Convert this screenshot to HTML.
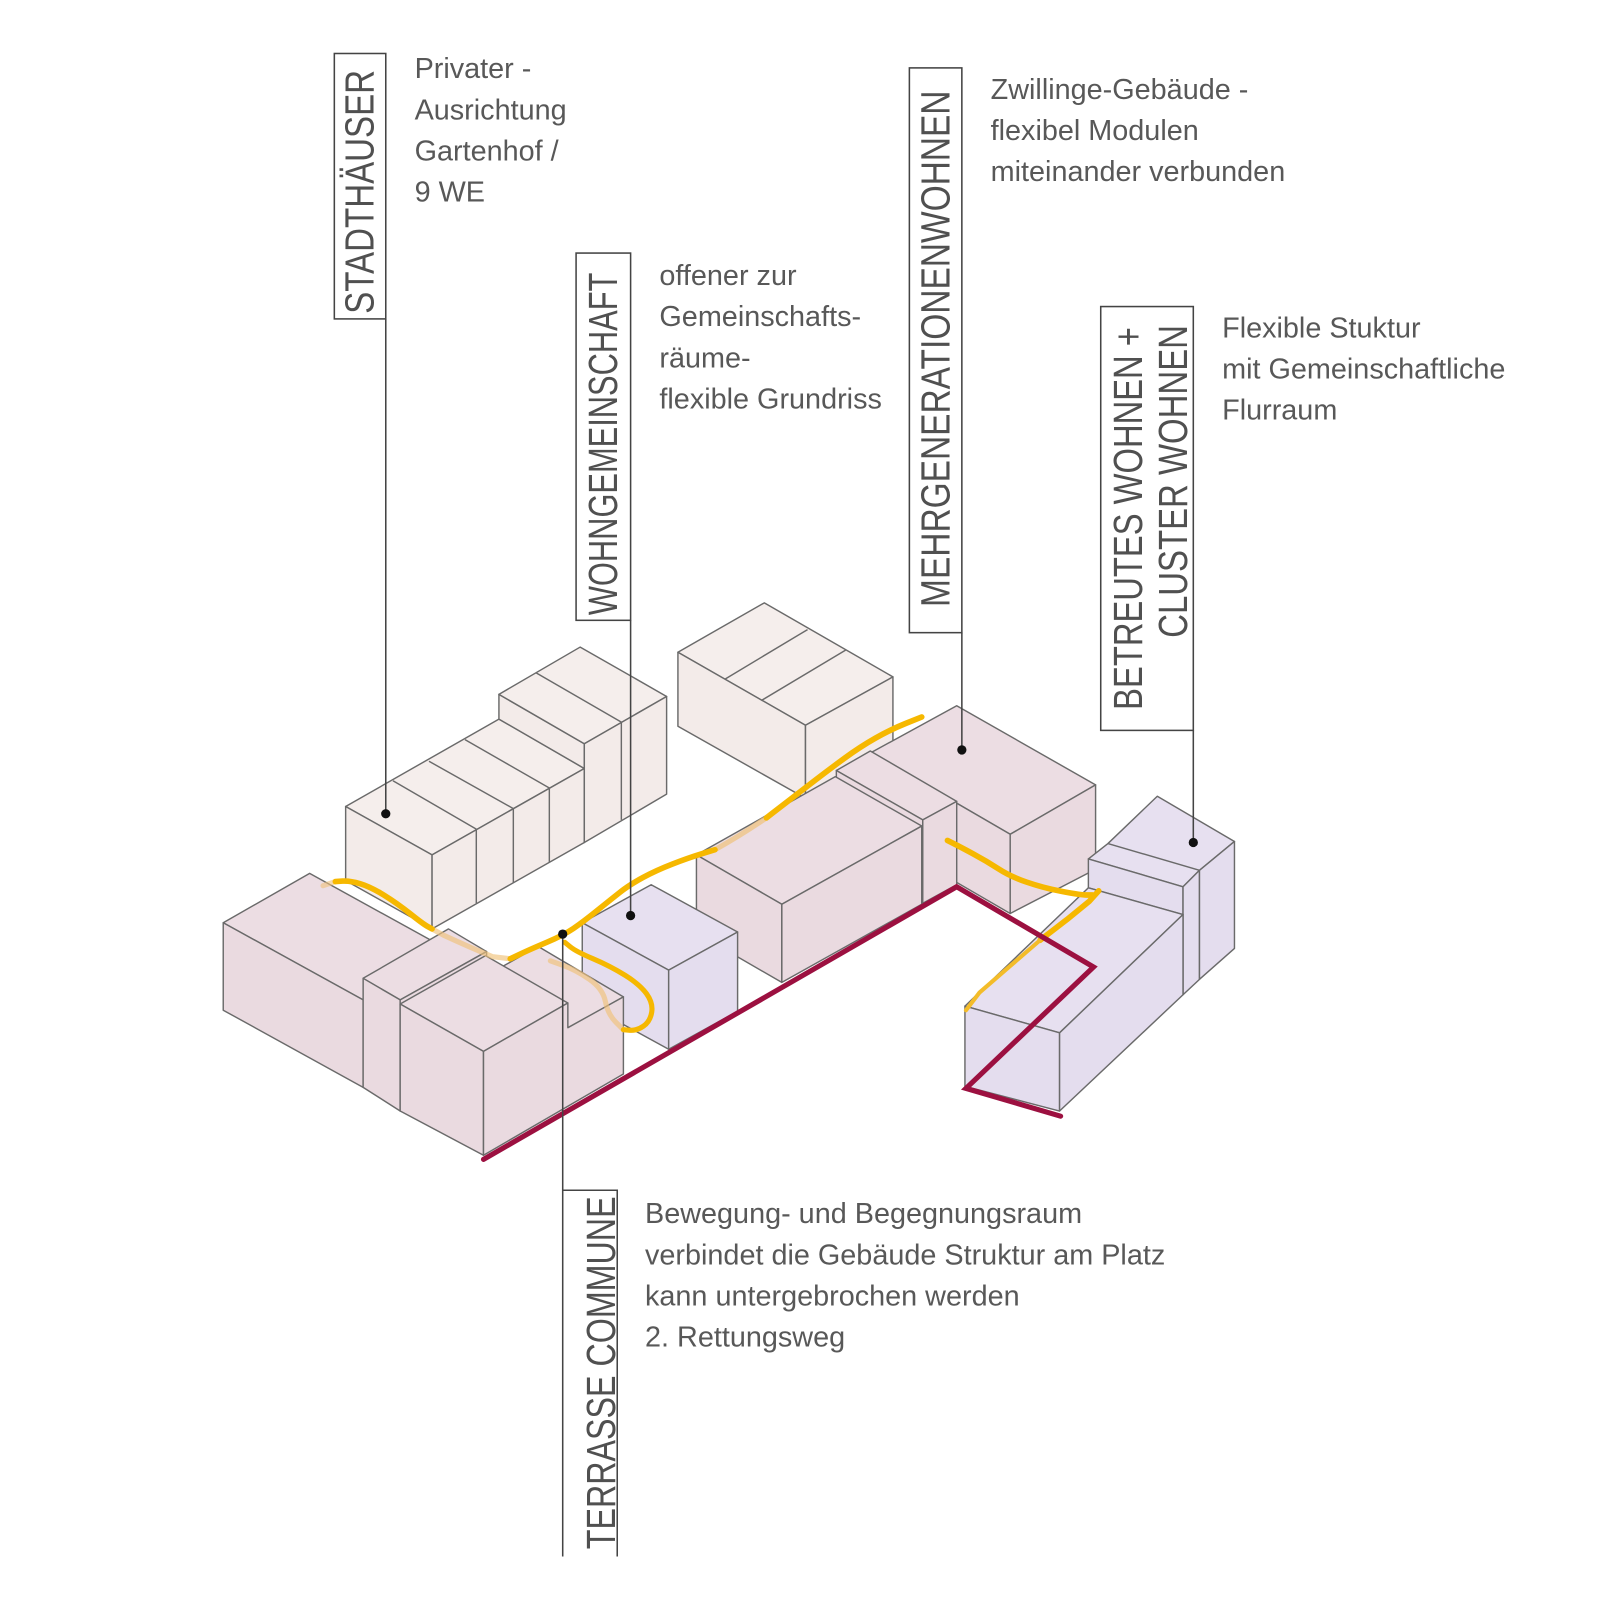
<!DOCTYPE html>
<html>
<head>
<meta charset="utf-8">
<style>
  html,body{margin:0;padding:0;background:#fff;}
  svg{display:block;}
  .lbl{font-family:"Liberation Sans",Arial,sans-serif;font-size:40px;fill:#505050;}
  .txt{font-family:"Liberation Sans",Arial,sans-serif;font-size:28px;fill:#585858;}
</style>
</head>
<body>
<svg xmlns="http://www.w3.org/2000/svg" width="1612" height="1612" viewBox="0 0 1567 1567">
<rect width="1567" height="1567" fill="#ffffff"/>

<g stroke="#6a6a6a" stroke-width="1.4" stroke-linejoin="round">
  <!-- B1 back cream block -->
  <polygon fill="#f5eeec" points="659,634 743,586 868,658 783,705"/>
  <polygon fill="#f3ebe9" points="659,634 783,705 783,776 659,706"/>
  <polygon fill="#f3ebe9" points="783,705 868,658 868,731 783,776"/>
  <line x1="705" y1="660" x2="785" y2="612"/>
  <line x1="740" y1="681" x2="822" y2="632"/>

  <!-- Stadthaeuser row lower -->
  <polygon fill="#f5eeec" points="336,784 485,699 568,747 420,831"/>
  <polygon fill="#f3ebe9" points="336,784 420,831 420,903 336,856"/>
  <polygon fill="#f3ebe9" points="420,831 568,747 568,819 420,903"/>
  <line x1="382" y1="759" x2="463" y2="806"/>
  <line x1="417" y1="740" x2="499" y2="786"/>
  <line x1="452" y1="719" x2="534" y2="766"/>
  <line x1="463" y1="806" x2="463" y2="878"/>
  <line x1="499" y1="786" x2="499" y2="858"/>
  <line x1="534" y1="766" x2="534" y2="838"/>
  <!-- Stadthaeuser higher -->
  <polygon fill="#f3ebe9" points="485,675 568,723 568,747 485,699"/>
  <polygon fill="#f5eeec" points="485,675 564,629 648,677 568,723"/>
  <polygon fill="#f3ebe9" points="568,723 648,677 648,772 568,819"/>
  <line x1="521" y1="654" x2="604" y2="702"/>
  <line x1="604" y1="702" x2="604" y2="797"/>

  <!-- M1a tall pink -->
  <polygon fill="#ecdde3" points="846,732 930,686 1065,763 982,811"/>
  <polygon fill="#eadae0" points="846,732 982,811 982,888 846,809"/>
  <polygon fill="#eadae0" points="982,811 1065,763 1065,845 982,888"/>
  <!-- M1b -->
  <polygon fill="#ecdde3" points="813,749 846,730 930,779 897,797"/>
  <polygon fill="#eadae0" points="813,749 897,797 897,878 813,830"/>
  <polygon fill="#eadae0" points="897,797 930,779 930,860 897,878"/>
  <!-- P1 -->
  <polygon fill="#ecdde3" points="677,831 812,755 896,803 760,879"/>
  <polygon fill="#eadae0" points="677,831 760,879 760,955 677,907"/>
  <polygon fill="#eadae0" points="760,879 896,803 896,879 760,955"/>

  <!-- Lavender cube (Wohngemeinschaft) -->
  <polygon fill="#e7e0f0" points="566,897 633,860 717,906 650,943"/>
  <polygon fill="#e4ddee" points="566,897 650,943 650,1020 566,974"/>
  <polygon fill="#e4ddee" points="650,943 717,906 717,983 650,1020"/>

  <!-- A1 -->
  <polygon fill="#ecdde3" points="217,897 301,849 437,924 353,972"/>
  <polygon fill="#eadae0" points="217,897 353,972 353,1057 217,982"/>
  <!-- A2 -->
  <polygon fill="#ecdde3" points="353,951 436,903 473,925 389,972"/>
  <polygon fill="#eadae0" points="353,951 389,972 389,1080 353,1057"/>
  <polygon fill="#eadae0" points="389,972 473,925 473,1033 389,1080"/>
  <!-- A4 -->
  <polygon fill="#ecdde3" points="470,950 523,920 606,969 553,999"/>
  <!-- A3 -->
  <polygon fill="#ecdde3" points="389,976 472,929 552,975 470,1022"/>
  <polygon fill="#eadae0" points="389,976 470,1022 470,1123 389,1080"/>
  <polygon fill="#eadae0" points="470,1022 552,975 552,999 606,969 606,1044 470,1123"/>

  <!-- Betreutes tall part -->
  <polygon fill="#e7e0f0" points="1058,835 1077,820 1125,774 1200,818 1166,846 1150,862"/>
  <line x1="1077" y1="820" x2="1166" y2="846"/>
  <polygon fill="#e4ddee" points="1058,835 1150,862 1150,889 1058,863"/>
  <polygon fill="#e4ddee" points="1150,862 1166,846 1166,952 1150,967"/>
  <polygon fill="#e4ddee" points="1166,846 1200,818 1200,922 1166,952"/>
  <!-- Betreutes long low part -->
  <polygon fill="#e7e0f0" points="938,978 1058,863 1150,889 1030,1004"/>
  <polygon fill="#e4ddee" points="938,978 1030,1004 1030,1080 938,1056"/>
  <polygon fill="#e4ddee" points="1030,1004 1150,889 1150,967 1030,1080"/>
</g>

<!-- Yellow paths -->
<g fill="none" stroke-linecap="round" stroke-linejoin="round">
  <!-- faded (behind) segments -->
  <path stroke="#f0c27a" stroke-opacity="0.6" stroke-width="5" d="M314,861 L326,857"/>
  <path stroke="#f0c27a" stroke-opacity="0.65" stroke-width="5" d="M420,903 L431,909 Q457,921 479,930 L496,932"/>
  <path stroke="#f0c27a" stroke-opacity="0.65" stroke-width="5" d="M606,1001 L598.5,993.5 Q591,986 588.5,973.5 Q586,961 573,952 Q560,943 547.5,938.5 L535,934"/>
  <path stroke="#f0c27a" stroke-opacity="0.7" stroke-width="5" d="M695,826 Q720,812 745,795"/>
  <!-- bold segments -->
  <path stroke="#f6b800" stroke-width="5.5" d="M326,857 L333,856.5 Q340,856 350,859 Q360,862 373,870 Q386,878 398.5,888 Q411,898 415.5,900.5 L420,903"/>
  <path stroke="#f6b800" stroke-width="5.5" d="M496,932 L505.5,927.5 Q515,923 531.5,916 Q548,909 557.5,902.5 Q567,896 580,885.5 Q593,875 602.5,867.5 Q612,860 625,853 Q638,846 653.5,840 Q669,834 682,830 L695,826"/>
  <path stroke="#f6b800" stroke-width="5.5" d="M745,795 L749.5,791.5 Q754,788 767,778 Q780,768 793,758 Q806,748 821,737 Q836,726 851,717.5 Q866,709 881,703 L896,697"/>
  <path stroke="#f6b800" stroke-width="5" d="M549,916 L554.5,920.5 Q560,925 576.5,932 Q593,939 607.5,948 Q622,957 628.5,966 Q635,975 633.5,984 Q632,993 625.5,997.5 Q619,1002 612.5,1001.5 L606,1001"/>
  <path stroke="#f6b800" stroke-width="5.5" d="M921,817 L927,820 Q933,823 946,830 Q959,837 970.5,844.5 Q982,852 998,857.5 Q1014,863 1032,866.5 Q1050,870 1056,870 L1062,870"/>
  <polyline stroke="#f6b800" stroke-width="5.5" points="1068,866 1059,876 1037,894 1011,914"/>
  <polyline stroke="#f3bc2a" stroke-width="4" points="1011,914 982,939 952,965 939,982"/>
</g>

<!-- Red path -->
<polyline fill="none" stroke="#9c1040" stroke-width="5" stroke-linejoin="miter" stroke-linecap="round"
  points="470,1127 930,862 1063,940 939,1058 1031,1085"/>

<!-- Label boxes and leaders -->
<g fill="none" stroke="#444" stroke-width="1.5">
  <rect x="325" y="52" width="50" height="258"/>
  <line x1="375" y1="310" x2="375" y2="791"/>
  <rect x="560" y="246" width="53" height="357"/>
  <line x1="613" y1="603" x2="613" y2="890"/>
  <rect x="884" y="66" width="51" height="549"/>
  <line x1="935" y1="615" x2="935" y2="729"/>
  <rect x="1070" y="298" width="90" height="412"/>
  <line x1="1160" y1="710" x2="1160" y2="819"/>
  <line x1="547" y1="908" x2="547" y2="1513"/>
  <polyline points="547,1157 600,1157 600,1513"/>
</g>
<g fill="#111">
  <circle cx="375" cy="791" r="4.5"/>
  <circle cx="613" cy="890" r="4.5"/>
  <circle cx="935" cy="729" r="4.5"/>
  <circle cx="1160" cy="819" r="4.5"/>
  <circle cx="547" cy="908" r="4.5"/>
</g>

<!-- Vertical labels -->
<text class="lbl" transform="translate(363,305) rotate(-90)" textLength="237" lengthAdjust="spacingAndGlyphs">STADTHÄUSER</text>
<text class="lbl" transform="translate(600,598) rotate(-90)" textLength="333" lengthAdjust="spacingAndGlyphs">WOHNGEMEINSCHAFT</text>
<text class="lbl" transform="translate(923,590) rotate(-90)" textLength="502" lengthAdjust="spacingAndGlyphs">MEHRGENERATIONENWOHNEN</text>
<text class="lbl" transform="translate(1110,690) rotate(-90)" textLength="372" lengthAdjust="spacingAndGlyphs">BETREUTES WOHNEN +</text>
<text class="lbl" transform="translate(1154,620) rotate(-90)" textLength="304" lengthAdjust="spacingAndGlyphs">CLUSTER WOHNEN</text>
<text class="lbl" transform="translate(598,1506) rotate(-90)" textLength="343" lengthAdjust="spacingAndGlyphs">TERRASSE COMMUNE</text>

<!-- Description texts -->
<text class="txt" x="403" y="76">Privater -</text>
<text class="txt" x="403" y="116">Ausrichtung</text>
<text class="txt" x="403" y="156">Gartenhof /</text>
<text class="txt" x="403" y="196">9 WE</text>

<text class="txt" x="641" y="277">offener zur</text>
<text class="txt" x="641" y="317">Gemeinschafts-</text>
<text class="txt" x="641" y="357">räume-</text>
<text class="txt" x="641" y="397">flexible Grundriss</text>

<text class="txt" x="963" y="96">Zwillinge-Gebäude -</text>
<text class="txt" x="963" y="136">flexibel Modulen</text>
<text class="txt" x="963" y="176">miteinander verbunden</text>

<text class="txt" x="1188" y="328">Flexible Stuktur</text>
<text class="txt" x="1188" y="368">mit Gemeinschaftliche</text>
<text class="txt" x="1188" y="408">Flurraum</text>

<text class="txt" x="627" y="1189">Bewegung- und Begegnungsraum</text>
<text class="txt" x="627" y="1229">verbindet die Gebäude Struktur am Platz</text>
<text class="txt" x="627" y="1269">kann untergebrochen werden</text>
<text class="txt" x="627" y="1309">2. Rettungsweg</text>
</svg>
</body>
</html>
